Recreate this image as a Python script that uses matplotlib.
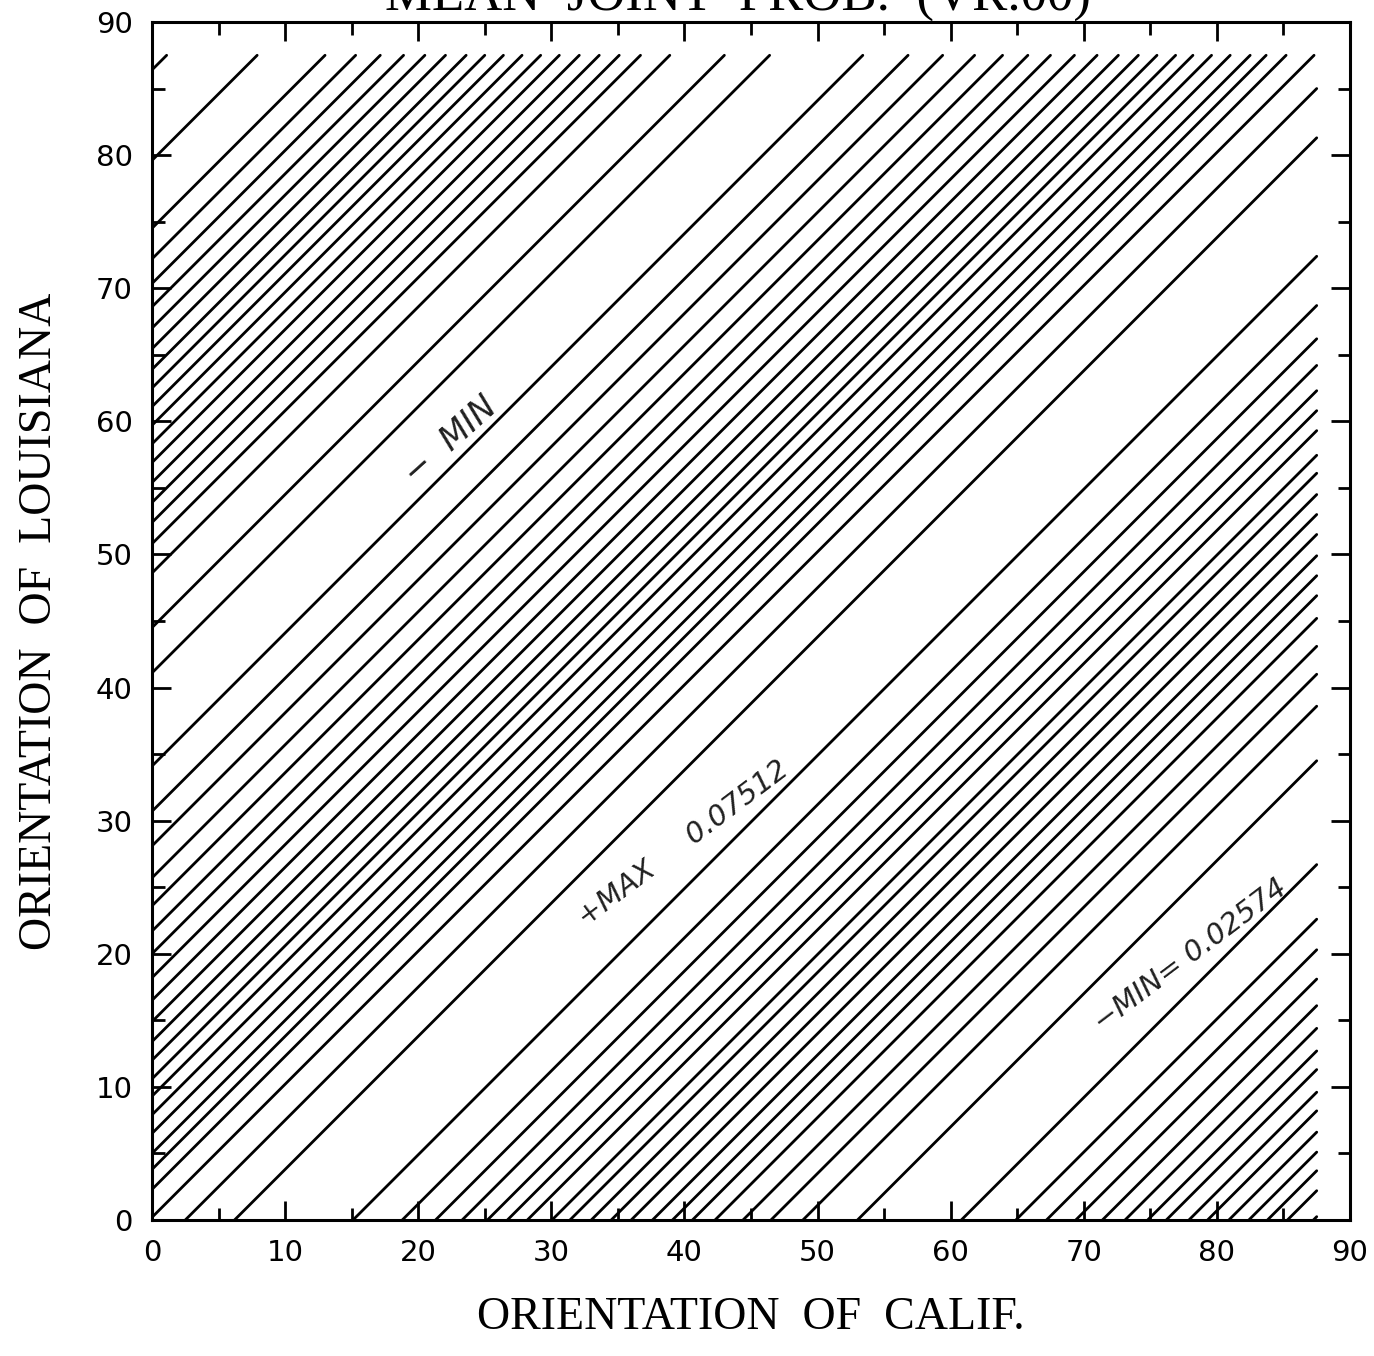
import numpy as np
import matplotlib.pyplot as plt

# where each contour line meets the left edge (x = 0) and the bottom edge (y = 0)
left_cross = [0.2, 2.3, 3.8, 5.0, 6.5, 7.9, 9.3, 10.6, 12.0, 13.4, 14.9, 16.5,
              18.2, 20.0, 21.7, 23.6, 25.7, 28.1, 30.7, 34.1, 41.1, 44.5, 48.6,
              50.8, 52.4, 53.9, 55.4, 56.9, 58.3, 59.7, 61.1, 62.5, 63.9, 65.45,
              67.0, 68.6, 70.35, 72.2, 74.5, 79.6, 86.4]
bottom_cross = [2.5, 6.2, 15.1, 18.8, 21.3, 23.3, 25.2, 26.7, 28.2, 30.05, 31.4,
                33.0, 34.5, 36.0, 37.6, 39.1, 40.6, 42.3, 44.4, 46.5, 48.9, 53.0,
                60.8, 64.9, 67.2, 69.4, 71.4, 73.1, 74.8, 76.2, 77.9, 79.3, 80.9,
                82.4, 83.8, 85.3, 87.25]
grid_max = 87.5

title = "MEAN  JOINT  PROB.  (VR.00)"
xlabel = "ORIENTATION  OF  CALIF."
ylabel = "ORIENTATION  OF  LOUISIANA"
notes = [("+MAX     0.07512", 39.9, 28.3, 37, 21),
         ("\u2212MIN= 0.02574", 78.0, 19.9, 37, 21),
         ("\u2212  MIN", 22.4, 58.6, 42, 24)]

W, H = 1374, 1356
fig = plt.figure(figsize=(W / 100, H / 100), dpi=100)
ax = fig.add_axes([152 / W, 136 / H, 1198 / W, 1198 / H])

# lines are y = x + d, clipped to the computed square
offsets = np.concatenate([np.array(left_cross), -np.array(bottom_cross)])
for d in offsets:
    xs = np.array([max(0.0, -d), min(grid_max, grid_max - d)])
    ax.plot(xs, xs + d, color='black', lw=2.0, solid_capstyle='round')

ax.set_xlim(0, 90)
ax.set_ylim(0, 90)
ax.set_xticks(np.arange(0, 91, 10))
ax.set_yticks(np.arange(0, 91, 10))
ax.set_xticks(np.arange(5, 90, 10), minor=True)
ax.set_yticks(np.arange(5, 90, 10), minor=True)
ax.tick_params(which='both', direction='in', top=True, right=True,
               width=2.0, labelsize=21, pad=14)
ax.tick_params(which='major', length=13.5)
ax.tick_params(which='minor', length=9)
for s in ax.spines.values():
    s.set_linewidth(2.2)

for txt, x, y, rot, size in notes:
    ax.text(x, y, txt, rotation=rot, rotation_mode='anchor', ha='center',
            va='center', fontsize=size, fontstyle='italic', color='#202020')

serif = ['Liberation Serif', 'DejaVu Serif']
fig.text(751 / W, 1 - 1318 / H, xlabel, ha='center', va='center',
         fontsize=33, family=serif)
fig.text(40 / W, 1 - 621 / H, ylabel, ha='center', va='center',
         rotation=90, fontsize=33, family=serif)
fig.text(738 / W, 1 - 11 / H, title, ha='center', va='baseline',
         fontsize=38, family=serif)

fig.savefig('out.png', dpi=100)
